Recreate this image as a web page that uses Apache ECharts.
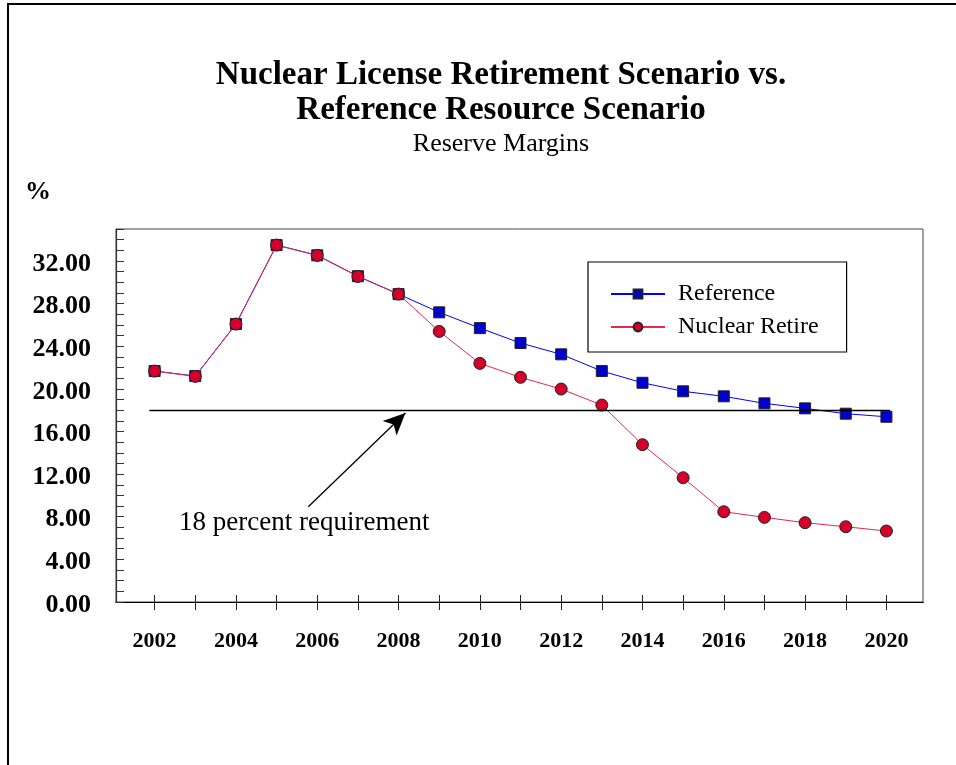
<!DOCTYPE html>
<html>
<head>
<meta charset="utf-8">
<title>Reserve Margins</title>
<script src="https://cdn.jsdelivr.net/npm/echarts@6/dist/echarts.min.js"></script>
<style>
  html, body { margin: 0; padding: 0; background: #fff; }
  #chart { width: 956px; height: 765px; }
</style>
</head>
<body>
<div id="chart"></div>
<script>
// data
const years = [2002, 2003, 2004, 2005, 2006, 2007, 2008, 2009, 2010, 2011,
  2012, 2013, 2014, 2015, 2016, 2017, 2018, 2019, 2020]
const reference = [21.67, 21.2, 26.08, 33.49, 32.53, 30.57, 28.89, 27.18, 25.70, 24.30,
  23.24, 21.67, 20.57, 19.77, 19.30, 18.64, 18.17, 17.67, 17.38]
const nuclearRetire = [21.67, 21.17, 26.08, 33.49, 32.52, 30.55, 28.89, 25.39, 22.39, 21.08,
  19.98, 18.48, 14.76, 11.66, 8.47, 7.94, 7.44, 7.06, 6.66]
const requirement = 18
const yLabelValues = [0, 4, 8, 12, 16, 20, 24, 28, 32]
const yTickValues = [0, 1, 2, 3, 4, 5, 6, 7, 8, 9, 10, 11, 12, 13, 14, 15, 16, 17,
  18, 19, 20, 21, 22, 23, 24, 25, 26, 27, 28, 29, 30, 31, 32, 33, 34, 35]
const xLabelValues = [2002, 2004, 2006, 2008, 2010, 2012, 2014, 2016, 2018, 2020]

const FONT = "'Liberation Serif', 'Times New Roman', serif"

const chart = echarts.init(document.getElementById('chart'))

// x axis shared settings (two copies so ticks cross the axis line)
const xBase = {
  type: 'value',
  min: 2001.05,
  max: 2020.9,
  position: 'bottom',
  splitLine: { show: false },
  axisLine: { lineStyle: { color: '#000', width: 1.2 } }
}

const option = {
  animation: false,
  backgroundColor: '#fff',
  textStyle: { fontFamily: FONT, color: '#000' },
  title: {
    left: 501,
    top: 58,
    textAlign: 'center',
    text: 'Nuclear License Retirement Scenario vs.\nReference Resource Scenario',
    textStyle: { fontFamily: FONT, fontSize: 33, fontWeight: 'bold', color: '#000', lineHeight: 35 },
    subtext: 'Reserve Margins',
    subtextStyle: { fontFamily: FONT, fontSize: 26, color: '#000', lineHeight: 28 },
    itemGap: 2,
    padding: 0
  },
  legend: {
    data: ['Reference', 'Nuclear Retire'],
    orient: 'vertical',
    left: 588,
    top: 262,
    padding: [20, 28, 13, 22],
    itemGap: 9,
    itemWidth: 54,
    itemHeight: 11,
    borderColor: '#000',
    borderWidth: 1.2,
    borderRadius: 0,
    textStyle: { fontFamily: FONT, fontSize: 24, color: '#000', padding: [0, 0, 0, 8] }
  },
  grid: {
    left: 116,
    right: 33,
    top: 229,
    bottom: 163,
    show: true,
    borderColor: '#444',
    borderWidth: 1,
    backgroundColor: 'transparent'
  },
  xAxis: [
    Object.assign({}, xBase, {
      axisTick: { show: true, inside: false, length: 8, customValues: years,
        lineStyle: { color: '#222', width: 1 } },
      axisLabel: {
        customValues: xLabelValues,
        margin: 28,
        fontFamily: FONT, fontSize: 22, fontWeight: 'bold', color: '#000',
        formatter: v => String(v)
      }
    }),
    Object.assign({}, xBase, {
      axisTick: { show: true, inside: true, length: 7, customValues: years,
        lineStyle: { color: '#222', width: 1 } },
      axisLabel: { show: false }
    })
  ],
  yAxis: {
    type: 'value',
    min: 0,
    max: 35,
    splitLine: { show: false },
    axisLine: { show: true, lineStyle: { color: '#333', width: 1.2 } },
    axisTick: { show: true, inside: true, length: 8, customValues: yTickValues,
      lineStyle: { color: '#333', width: 1 } },
    axisLabel: {
      customValues: yLabelValues,
      margin: 25,
      formatter: v => '{v|' + v.toFixed(2) + '}',
      rich: {
        v: {
          fontFamily: FONT, fontSize: 26, fontWeight: 'bold', color: '#000',
          padding: [6, 0, 0, 0]
        }
      }
    }
  },
  graphic: [
    {
      // page frame
      type: 'polyline',
      shape: { points: [[8, 765], [8, 4], [956, 4]] },
      style: { stroke: '#000', lineWidth: 2, fill: null }
    },
    {
      type: 'text',
      left: 25,
      top: 179,
      style: { text: '%', font: 'bold 26px ' + FONT, fill: '#000' }
    }
  ],
  series: [
    {
      name: 'requirement',
      type: 'line',
      data: [],
      silent: true,
      markLine: {
        silent: true,
        animation: false,
        label: { show: false },
        data: [
          [
            { coord: [2001.87, requirement], symbol: 'none' },
            { coord: [2020.09, requirement], symbol: 'none' }
          ],
          [
            { coord: [2005.78, 8.93], symbol: 'none' },
            { coord: [2008.17, 17.74], symbol: 'arrow', symbolSize: [15, 22] }
          ]
        ],
        lineStyle: { color: '#000', width: 1.3, type: 'solid' }
      },
      markPoint: {
        silent: true,
        symbol: 'circle',
        symbolSize: 1,
        itemStyle: { color: 'rgba(0,0,0,0)' },
        label: {
          show: true,
          position: 'inside',
          formatter: '18 percent requirement',
          fontFamily: FONT, fontSize: 27, color: '#000'
        },
        data: [{ coord: [2005.68, 7.43] }]
      }
    },
    {
      name: 'Reference',
      type: 'line',
      data: years.map((y, i) => [y, reference[i]]),
      symbol: 'rect',
      symbolSize: 11,
      lineStyle: { color: '#0000ff', width: 1 },
      itemStyle: { color: '#0000cc', borderColor: '#222', borderWidth: 1 },
      z: 3
    },
    {
      name: 'Nuclear Retire',
      type: 'line',
      data: years.map((y, i) => [y, nuclearRetire[i]]),
      symbol: 'circle',
      symbolSize: 12,
      lineStyle: { color: '#e8284a', width: 1 },
      itemStyle: { color: '#d4002a', borderColor: '#222', borderWidth: 1 },
      z: 4
    }
  ]
}

chart.setOption(option)
</script>
</body>
</html>
